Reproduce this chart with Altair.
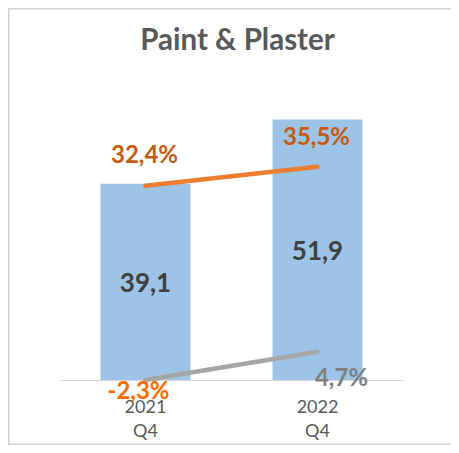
import altair as alt
import pandas as pd

title_text = ["Paint & Plaster"]
periods = ["2021 Q4", "2022 Q4"]
sales = [39.1, 51.9]
margin = [32.4, 35.5]
growth = [-2.3, 4.7]

df = pd.DataFrame({"period": periods, "sales": sales, "margin": margin, "growth": growth})
tdf = pd.DataFrame({"t": title_text})

FONT = "Lato"
W, H = 343, 320

x_enc = alt.X("period:N", sort=periods, title=None,
              scale=alt.Scale(paddingInner=0.4767, paddingOuter=0.2354),
              axis=alt.Axis(labelExpr="split(datum.label, ' ')", labelAngle=0,
                            ticks=False, domainColor="#D9D9D9", domainWidth=1.2,
                            labelColor="#595959", labelFont=FONT, labelFontSize=18,
                            labelLineHeight=24, labelPadding=18))

bar_scale = alt.Scale(domain=[0, 63.75])
m_scale = alt.Scale(domain=[0.7, 52.9])
g_scale = alt.Scale(domain=[-2.3, 76.9])

base = alt.Chart(df)

bars = base.mark_bar(color="#9DC3E6").encode(
    x=x_enc, y=alt.Y("sales:Q", scale=bar_scale, axis=None))

bar_text = base.transform_calculate(
    mid="datum.sales/2", lab="replace(toString(datum.sales), '.', ',')"
).mark_text(font=FONT, fontWeight="bold", fontSize=26, color="#404040", dy=2).encode(
    x=x_enc, y=alt.Y("mid:Q", scale=bar_scale, axis=None), text="lab:N")

m_line = base.mark_line(color="#ED7D31", strokeWidth=4.5, strokeCap="round").encode(
    x=x_enc, y=alt.Y("margin:Q", scale=m_scale, axis=None))

g_line = base.mark_line(color="#A5A5A5", strokeWidth=4.5, strokeCap="round").encode(
    x=x_enc, y=alt.Y("growth:Q", scale=g_scale, axis=None))

def mlabel(p, dx, dy):
    return base.transform_filter(alt.datum.period == p).transform_calculate(
        lab="replace(toString(datum.margin), '.', ',') + '%'"
    ).mark_text(font=FONT, fontWeight="bold", fontSize=24, color="#C55A11", dx=dx, dy=dy).encode(
        x=x_enc, y=alt.Y("margin:Q", scale=m_scale, axis=None), text="lab:N")

def glabel(p, dx, dy, color):
    return base.transform_filter(alt.datum.period == p).transform_calculate(
        lab="replace(toString(datum.growth), '.', ',') + '%'"
    ).mark_text(font=FONT, fontWeight="bold", fontSize=24, color=color, dx=dx, dy=dy).encode(
        x=x_enc, y=alt.Y("growth:Q", scale=g_scale, axis=None), text="lab:N")

title = alt.Chart(tdf).mark_text(font=FONT, fontSize=29.5, fontWeight="bold", color="#595959",
                                 align="center", baseline="alphabetic").encode(
    x=alt.value(177.5), y=alt.value(-10), text="t:N")

def bar_line(x, x2, y, y2):
    return alt.Chart(tdf).mark_rect(color="#D0D0D0", strokeWidth=0).encode(
        x=alt.value(x), x2=alt.value(x2), y=alt.value(y), y2=alt.value(y2))

border_l = bar_line(-52, -50.5, -52, 385)
border_t = bar_line(-52, 395, -52, -50.5)
border_b = bar_line(-52, 395, 383.5, 385)

chart = alt.layer(
    border_l, border_t, border_b, title,
    bars, bar_text, m_line, g_line,
    mlabel(periods[0], -1, -30), mlabel(periods[1], -1, -29),
    glabel(periods[0], -7, 12, "#FF6A00"), glabel(periods[1], 24, 27, "#7F7F7F"),
).resolve_scale(y="independent").properties(
    width=W, height=H,
    autosize=alt.AutoSizeParams(type="none"),
    padding={"left": 52, "top": 52, "right": 48, "bottom": 65},
).configure_view(stroke=None)

chart.save("out.html", embed_options={"renderer": "svg", "actions": False})
